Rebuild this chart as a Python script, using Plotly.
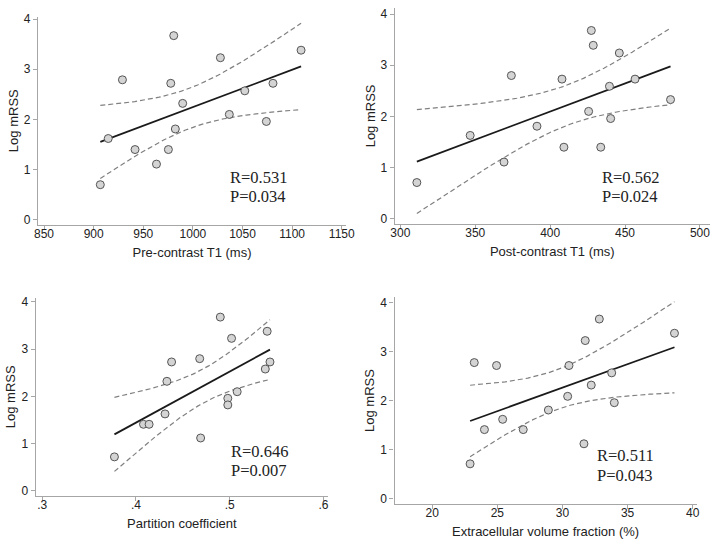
import numpy as np
import plotly.graph_objects as go

W, H = 723, 546

# ---------------- data ----------------
pre_t1 = [906.7, 914.7, 929.0, 941.7, 963.3, 975.3, 977.7, 980.7, 982.3, 989.7,
          1027.7, 1036.7, 1052.3, 1074.0, 1080.7, 1109.0]
pre_logmrss = [0.70, 1.62, 2.79, 1.40, 1.11, 1.40, 2.72, 3.67, 1.81, 2.32,
               3.23, 2.10, 2.57, 1.96, 2.72, 3.38]

post_t1 = [311.0, 346.6, 369.2, 374.1, 391.2, 407.9, 409.2, 425.7, 427.5, 428.8,
           433.8, 439.6, 440.4, 446.2, 456.7, 480.4]
post_logmrss = [0.71, 1.63, 1.11, 2.80, 1.81, 2.73, 1.40, 2.10, 3.68, 3.39,
                1.40, 2.59, 1.96, 3.24, 2.73, 2.33]

partition = [0.377, 0.408, 0.414, 0.431, 0.433, 0.438, 0.468, 0.469, 0.490, 0.498,
             0.498, 0.502, 0.508, 0.538, 0.540, 0.543]
partition_logmrss = [0.72, 1.41, 1.41, 1.63, 2.32, 2.73, 2.80, 1.12, 3.68, 1.96,
                     1.82, 3.23, 2.10, 2.58, 3.38, 2.73]

ecv = [22.91, 23.23, 24.01, 24.94, 25.41, 26.99, 28.92, 30.40, 30.50, 31.65,
       31.75, 32.21, 32.83, 33.78, 33.98, 38.60]
ecv_logmrss = [0.71, 2.78, 1.41, 2.72, 1.62, 1.41, 1.81, 2.09, 2.72, 1.12,
               3.23, 2.32, 3.67, 2.57, 1.96, 3.38]

panel_titles = ["Pre-contrast T1 (ms)", "Post-contrast T1 (ms)",
                "Partition coefficient", "Extracellular volume fraction (%)"]
r_labels = ["R=0.531", "R=0.562", "R=0.646", "R=0.511"]
p_labels = ["P=0.034", "P=0.024", "P=0.007", "P=0.043"]
x_ticks = [[850, 900, 950, 1000, 1050, 1100, 1150],
           [300, 350, 400, 450, 500],
           [0.3, 0.4, 0.5, 0.6],
           [20, 25, 30, 35, 40]]
x_ticktext = [None, None, [".3", ".4", ".5", ".6"], None]
y_ticks = [0, 1, 2, 3, 4]

# ---------------- layout (pixel boxes) ----------------
# (left, right, top, bottom) in px, x range, y range,
# annotation: left px, R-line centre px, P-line centre px
panels = [
    dict(box=(34.7, 348.3, 12.7, 223.3), xr=[844.0, 1154.3], yr=[-0.10, 4.05], ann=(229.5, 175, 194.5)),
    dict(box=(398.0, 718.7, 4.0, 222.3), xr=[296.3, 506.6], yr=[-0.097, 4.12], ann=(608, 175, 194.5)),
    dict(box=(32.3, 330.0, 297.0, 497.3), xr=[0.293, 0.605], yr=[-0.105, 4.09], ann=(230, 452, 472)),
    dict(box=(397.7, 705.3, 296.3, 505.5), xr=[17.11, 40.3], yr=[-0.11, 4.12], ann=(602.7, 457, 477)),
]
xs = [pre_t1, post_t1, partition, ecv]
ys = [pre_logmrss, post_logmrss, partition_logmrss, ecv_logmrss]

AXIS_COL = "#a6a6a6"
TEXT_COL = "#222222"
SANS = "Liberation Sans, Arial, Helvetica, sans-serif"
SERIF = "Liberation Serif, Times New Roman, serif"

fig = go.Figure()
T975 = 2.1448  # t(0.975, df=14)

for i, (p, xv, yv) in enumerate(zip(panels, xs, ys)):
    n = i + 1
    xa = "x" if n == 1 else f"x{n}"
    ya = "y" if n == 1 else f"y{n}"
    x = np.array(xv)
    y = np.array(yv)
    b1, b0 = np.polyfit(x, y, 1)
    resid = y - (b0 + b1 * x)
    s = np.sqrt(np.sum(resid ** 2) / (len(x) - 2))
    sxx = np.sum((x - x.mean()) ** 2)
    xg = np.linspace(x.min(), x.max(), 100)
    fit = b0 + b1 * xg
    hw = T975 * s * np.sqrt(1 / len(x) + (xg - x.mean()) ** 2 / sxx)

    dash = dict(color="#808080", width=1.2, dash="5px,3px")
    fig.add_trace(go.Scatter(x=xg, y=fit + hw, mode="lines", line=dash,
                             xaxis=xa, yaxis=ya, hoverinfo="skip"))
    fig.add_trace(go.Scatter(x=xg, y=fit - hw, mode="lines", line=dash,
                             xaxis=xa, yaxis=ya, hoverinfo="skip"))
    fig.add_trace(go.Scatter(x=[x.min(), x.max()], y=[b0 + b1 * x.min(), b0 + b1 * x.max()],
                             mode="lines", line=dict(color="#1a1a1a", width=1.8),
                             xaxis=xa, yaxis=ya, hoverinfo="skip"))
    fig.add_trace(go.Scatter(x=x, y=y, mode="markers",
                             marker=dict(size=8, color="#d4d4d4",
                                         line=dict(color="#555555", width=1)),
                             xaxis=xa, yaxis=ya))

    l, r, t, btm = p["box"]
    xkey = "xaxis" if n == 1 else f"xaxis{n}"
    ykey = "yaxis" if n == 1 else f"yaxis{n}"
    xaxis = dict(domain=[l / W, r / W], range=p["xr"], anchor=ya,
                 showgrid=False, zeroline=False, showline=True, linecolor=AXIS_COL,
                 linewidth=1.3, ticks="outside", ticklen=4, tickcolor=AXIS_COL,
                 tickwidth=1, tickvals=x_ticks[i], ticklabelstandoff=-6,
                 tickfont=dict(family=SANS, size=12, color=TEXT_COL),
                 title=dict(text=panel_titles[i], standoff=7,
                            font=dict(family=SANS, size=13, color=TEXT_COL)))
    if x_ticktext[i] is not None:
        xaxis["ticktext"] = x_ticktext[i]
    yaxis = dict(domain=[1 - btm / H, 1 - t / H], range=p["yr"], anchor=xa,
                 showgrid=False, zeroline=False, showline=True, linecolor=AXIS_COL,
                 linewidth=1.3, ticks="outside", ticklen=4, tickcolor=AXIS_COL,
                 tickwidth=1, tickvals=y_ticks,
                 tickfont=dict(family=SANS, size=12, color=TEXT_COL),
                 title=dict(text="Log mRSS", standoff=2,
                            font=dict(family=SANS, size=13, color=TEXT_COL)))
    fig.update_layout({xkey: xaxis, ykey: yaxis})

    ax, ry, py = p["ann"]
    for txt, cy in ((r_labels[i], ry), (p_labels[i], py)):
        fig.add_annotation(x=ax / W, y=1 - cy / H, xref="paper", yref="paper",
                           xanchor="left", yanchor="middle", align="left",
                           text=txt, showarrow=False, borderpad=0,
                           font=dict(family=SERIF, size=16.5, color=TEXT_COL))

fig.update_layout(width=W, height=H, margin=dict(l=0, r=0, t=0, b=0),
                  paper_bgcolor="white", plot_bgcolor="white", showlegend=False)

fig.write_html("out.html", config={"displayModeBar": False},
               post_script="document.body.style.margin='0';document.body.style.padding='0';")
